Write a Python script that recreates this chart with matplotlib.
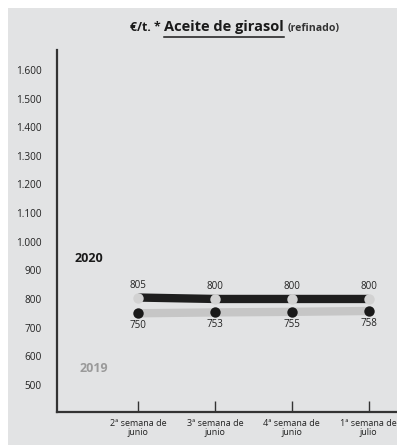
import matplotlib.pyplot as plt
from matplotlib.patches import Rectangle
from matplotlib.lines import Line2D

weeks = ['2ª semana de\njunio', '3ª semana de\njunio', '4ª semana de\njunio', '1ª semana de\njulio']
precio_2020 = [805, 800, 800, 800]
precio_2019 = [750, 753, 755, 758]
y_ticks = [500, 600, 700, 800, 900, 1000, 1100, 1200, 1300, 1400, 1500, 1600]
y_labels = ['500', '600', '700', '800', '900', '1.000', '1.100', '1.200', '1.300', '1.400', '1.500', '1.600']

plt.rcParams['font.family'] = ['Open Sans', 'DejaVu Sans']

W, H = 397, 445
fig = plt.figure(figsize=(W / 100, H / 100), dpi=100)
fig.patch.set_facecolor('white')
fig.add_artist(Rectangle((8 / W, 0), 1, 1 - 8 / H, transform=fig.transFigure,
                         facecolor='#e2e3e4', edgecolor='none', zorder=0))

ax = fig.add_axes([57 / W, (H - 412) / H, (W - 57) / W, (412 - 50) / H])
ax.set_facecolor('none')
for s in ['top', 'right']:
    ax.spines[s].set_visible(False)
for s in ['left', 'bottom']:
    ax.spines[s].set_color('#333333')
    ax.spines[s].set_linewidth(1.6)

x = list(range(len(weeks)))
ax.set_xlim(-1.06, 3.37)
ax.set_ylim(405, 1670)

ax.set_xticks(x)
ax.set_xticklabels(weeks, fontsize=6.5, color='#222222', linespacing=0.95)
ax.tick_params(axis='x', direction='in', length=8, width=1, color='#333333', pad=5)
ax.set_yticks(y_ticks)
ax.set_yticklabels(y_labels, fontsize=7.2, color='#222222')
ax.tick_params(axis='y', length=0, pad=11)

# 2020: black band with light markers
ax.plot(x, precio_2020, color='#1e1e1e', lw=6, solid_capstyle='butt', zorder=3)
ax.plot(x, precio_2020, 'o', ms=7.5, color='#d2d2d2', mec='none', zorder=4)
for xi, v in zip(x, precio_2020):
    ax.annotate(str(v), (xi, v), xytext=(0, 5), textcoords='offset points',
                ha='center', va='bottom', fontsize=7, color='#222222')

# 2019: light band with black markers
ax.plot(x, precio_2019, color='#c6c6c6', lw=6, solid_capstyle='butt', zorder=3)
ax.plot(x, precio_2019, 'o', ms=7.5, color='#1a1a1a', mec='none', zorder=4)
for xi, v in zip(x, precio_2019):
    ax.annotate(str(v), (xi, v), xytext=(0, -5), textcoords='offset points',
                ha='center', va='top', fontsize=7, color='#222222')

fig.text(75 / W, 1 - 258 / H, '2020', fontsize=9, fontweight='bold', color='#1a1a1a', va='center')
fig.text(80 / W, 1 - 368 / H, '2019', fontsize=9, fontweight='bold', color='#9a9a9a', va='center')

# title built from pieces
fig.canvas.draw()
r = fig.canvas.get_renderer()
base_y = 1 - 31 / H
t1 = fig.text(130 / W, base_y, '€/t. * ', fontsize=8.8, fontweight='bold', color='#1a1a1a', va='baseline')
bb = t1.get_window_extent(r)
t2 = fig.text(bb.x1 / W, base_y, 'Aceite de girasol', fontsize=10.5, fontweight='bold',
              color='#1a1a1a', va='baseline')
bb2 = t2.get_window_extent(r)
fig.add_artist(Line2D([bb2.x0 / W, bb2.x1 / W], [1 - 37 / H, 1 - 37 / H], transform=fig.transFigure,
                      color='#1a1a1a', lw=1.1))
fig.text(bb2.x1 / W + 4 / W, base_y, '(refinado)', fontsize=7.6, fontweight='bold',
         color='#333333', va='baseline')

fig.savefig('out.png', dpi=100)
